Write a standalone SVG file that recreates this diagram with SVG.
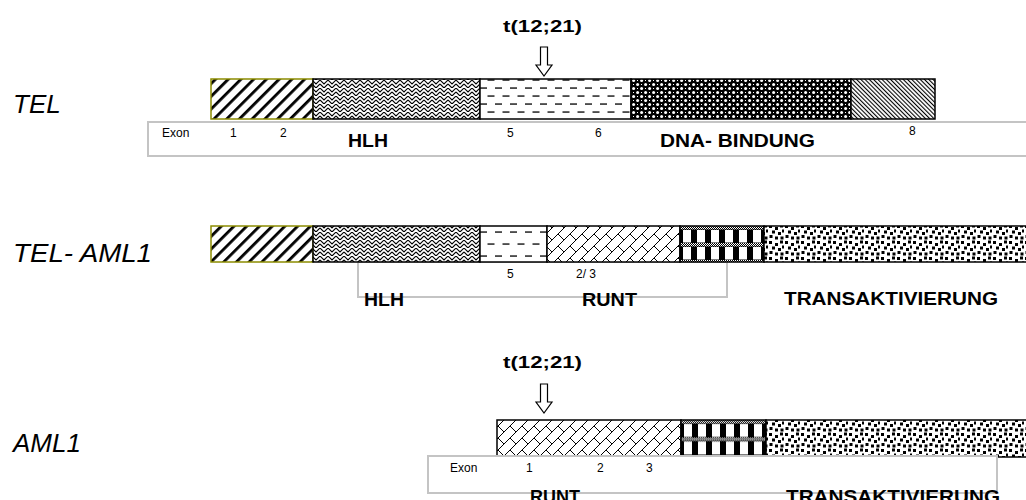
<svg xmlns="http://www.w3.org/2000/svg" width="1026" height="500" viewBox="0 0 1026 500">
<style>
.lbl{font-family:"Liberation Sans",Arial,sans-serif;font-style:italic;font-size:26px;fill:#000}
.sm{font-family:"Liberation Sans",Arial,sans-serif;font-size:12px;fill:#000}
.bd{font-family:"Liberation Sans",Arial,sans-serif;font-weight:bold;font-size:19px;fill:#000}
.tt{font-family:"Liberation Sans",Arial,sans-serif;font-weight:bold;font-size:17px;fill:#000}
.seg{stroke:#000;stroke-width:1.5}
.olive{stroke:#8c8c00;stroke-width:1.5}
.box{fill:#fff;stroke:#c4c4c4;stroke-width:2}
.arr{fill:#fff;stroke:#000;stroke-width:1.2}
</style>
<defs>
<pattern id="pStripeW" width="9" height="9" patternUnits="userSpaceOnUse" patternTransform="rotate(45)"><rect width="9" height="9" fill="#fff"/><rect width="2.8" height="9" fill="#000"/></pattern>
<pattern id="pStripeF" width="3" height="3" patternUnits="userSpaceOnUse" patternTransform="rotate(-45)"><rect width="3" height="3" fill="#fff"/><rect width="1.1" height="3" fill="#000"/></pattern>
<pattern id="pWeave" width="8" height="8" patternUnits="userSpaceOnUse"><rect width="8" height="8" fill="#fff"/><path d="M0 0 L4 4 L8 0 M0 4 L4 8 L8 4" fill="none" stroke="#000" stroke-width="1.1"/></pattern>
<pattern id="pDash1" x="0" y="84" width="15" height="16" patternUnits="userSpaceOnUse"><rect width="15" height="16" fill="#fff"/><rect x="0" y="3.4" width="7" height="1.3" fill="#000"/><rect x="7.5" y="11.4" width="7" height="1.3" fill="#000"/></pattern>
<pattern id="pDash2" x="0" y="226" width="15" height="24" patternUnits="userSpaceOnUse"><rect width="15" height="24" fill="#fff"/><rect x="0" y="5.4" width="7" height="1.3" fill="#000"/><rect x="7.5" y="17.4" width="7" height="1.3" fill="#000"/></pattern>
<pattern id="pBlackDots" x="0" y="79" width="8" height="8" patternUnits="userSpaceOnUse"><rect width="8" height="8" fill="#000"/><circle cx="1.6" cy="1.6" r="1.5" fill="#fff"/><circle cx="5.6" cy="5.6" r="1.5" fill="#fff"/><rect x="5" y="1" width="1" height="1" fill="#fff"/><rect x="1" y="5" width="1" height="1" fill="#fff"/></pattern>
<pattern id="pBrick" width="12" height="12" patternUnits="userSpaceOnUse"><rect width="12" height="12" fill="#fff"/><path d="M0 12 L12 0 M-1 1 L1 -1 M11 13 L13 11 M6 6 L12 12" fill="none" stroke="#000" stroke-width="1"/></pattern>
<pattern id="pTiny" width="2" height="2" patternUnits="userSpaceOnUse"><rect width="2" height="2" fill="#fff"/><rect width="1" height="1" fill="#000"/><rect x="1" y="1" width="1" height="1" fill="#000"/></pattern>
<pattern id="pCheck2" x="680" y="226" width="14" height="17" patternUnits="userSpaceOnUse"><rect width="14" height="17" fill="#000"/><rect x="0" y="0" width="14" height="3.5" fill="url(#pTiny)"/><rect x="3" y="4" width="8" height="12.5" fill="#fff"/></pattern>
<pattern id="pCheck3" x="681" y="420" width="14" height="17.5" patternUnits="userSpaceOnUse"><rect width="14" height="17.5" fill="#000"/><rect x="0" y="0" width="14" height="3.5" fill="url(#pTiny)"/><rect x="3" y="4" width="8" height="13" fill="#fff"/></pattern>
<pattern id="pConf" width="16" height="16" patternUnits="userSpaceOnUse"><rect width="16" height="16" fill="#fff"/><g fill="#000"><rect x="1" y="1" width="3" height="3"/><rect x="7" y="3" width="3" height="3"/><rect x="12" y="0.5" width="3" height="3"/><rect x="4" y="6.5" width="3" height="3"/><rect x="10" y="8" width="3" height="3"/><rect x="14" y="5.5" width="2" height="3"/><rect x="1.5" y="11" width="3" height="3"/><rect x="7" y="12.5" width="3" height="3"/><rect x="12.5" y="12.5" width="3" height="3"/></g></pattern>
</defs>

<g id="TEL">
<text class="lbl" x="13" y="113">TEL</text>
<rect class="box" x="148" y="122" width="890" height="34"/>
<rect class="olive" x="211" y="79" width="102" height="40" fill="url(#pStripeW)"/>
<rect class="seg" x="313" y="79" width="167" height="40" fill="url(#pWeave)"/>
<rect class="seg" x="480" y="79" width="151" height="40" fill="url(#pDash1)"/>
<rect class="seg" x="631" y="79" width="220" height="40" fill="url(#pBlackDots)"/>
<rect class="seg" x="851" y="79" width="84" height="40" fill="url(#pStripeF)"/>
<text class="sm" x="162" y="137">Exon</text>
<text class="sm" x="230" y="137">1</text>
<text class="sm" x="280" y="137">2</text>
<text class="bd" x="348" y="147" textLength="40" lengthAdjust="spacingAndGlyphs">HLH</text>
<text class="sm" x="507" y="137">5</text>
<text class="sm" x="595" y="137">6</text>
<text class="bd" x="660" y="147" textLength="155" lengthAdjust="spacingAndGlyphs">DNA- BINDUNG</text>
<text class="sm" x="909" y="135">8</text>
</g>

<g id="TEL-AML1">
<text class="lbl" x="13" y="262" textLength="139" lengthAdjust="spacingAndGlyphs">TEL- AML1</text>
<rect class="box" x="358" y="262" width="369" height="35"/>
<rect class="olive" x="211" y="226" width="102" height="36" fill="url(#pStripeW)"/>
<rect class="seg" x="313" y="226" width="167" height="36" fill="url(#pWeave)"/>
<rect class="seg" x="480" y="226" width="67" height="36" fill="url(#pDash2)"/>
<rect class="seg" x="547" y="226" width="133" height="36" fill="url(#pBrick)"/>
<rect class="seg" x="680" y="226" width="84" height="36" fill="url(#pCheck2)"/>
<rect class="seg" x="764" y="226" width="270" height="36" fill="url(#pConf)"/>
<text class="sm" x="507" y="278">5</text>
<text class="sm" x="576" y="278">2/ 3</text>
<text class="bd" x="364" y="306" textLength="40" lengthAdjust="spacingAndGlyphs">HLH</text>
<text class="bd" x="582" y="306" textLength="55" lengthAdjust="spacingAndGlyphs">RUNT</text>
<text class="bd" x="784" y="305" textLength="214" lengthAdjust="spacingAndGlyphs">TRANSAKTIVIERUNG</text>
</g>

<g id="AML1">
<text class="lbl" x="13" y="452">AML1</text>
<rect class="seg" x="497" y="420" width="184" height="37" fill="url(#pBrick)"/>
<rect class="seg" x="681" y="420" width="85" height="37" fill="url(#pCheck3)"/>
<rect class="seg" x="766" y="420" width="270" height="37" fill="url(#pConf)"/>
<rect class="box" x="428" y="456" width="569" height="37"/>
<text class="sm" x="450" y="472">Exon</text>
<text class="sm" x="526" y="472">1</text>
<text class="sm" x="597" y="472">2</text>
<text class="sm" x="646" y="472">3</text>
<text class="bd" x="530" y="503" textLength="50" lengthAdjust="spacingAndGlyphs">RUNT</text>
<text class="bd" x="786" y="503" textLength="214" lengthAdjust="spacingAndGlyphs">TRANSAKTIVIERUNG</text>
</g>

<g id="translocation-top">
<text class="tt" x="503" y="32" textLength="79" lengthAdjust="spacingAndGlyphs">t(12;21)</text>
</g>
<g id="translocation-bottom">
<text class="tt" x="503" y="368" textLength="79" lengthAdjust="spacingAndGlyphs">t(12;21)</text>
</g>

<g id="connectors">
<path class="arr" d="M540.5 47 H547.5 V65 H552 L544 76 L536 65 H540.5 Z"/>
<path class="arr" d="M540.5 384 H547.5 V402 H552 L544 413 L536 402 H540.5 Z"/>
</g>
</svg>
